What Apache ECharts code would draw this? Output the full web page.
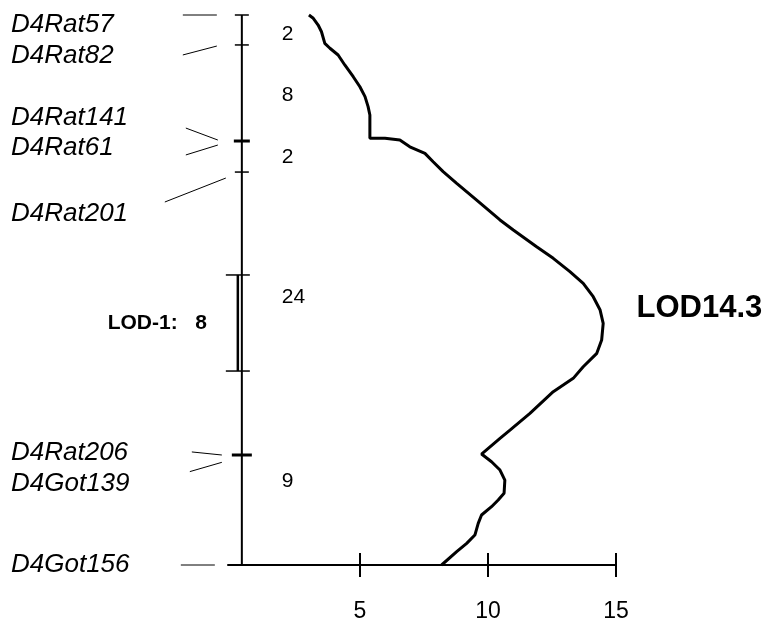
<!DOCTYPE html>
<html>
<head>
<meta charset="utf-8">
<script src="https://cdn.jsdelivr.net/npm/echarts@6/dist/echarts.min.js"></script>
<style>html,body{margin:0;padding:0;background:#fff}#c{width:764px;height:623px}</style>
</head>
<body>
<div id="c"></div>
<script>
// ---- data ----
// LOD profile: LOD score and map position (cM from top marker)
const curveLOD = [3.01,3.18,3.37,3.50,3.63,3.83,4.15,4.41,4.74,5.00,5.20,5.32,5.39,5.39,5.98,6.56,6.95,7.54,7.86,8.25,8.78,9.56,10.47,10.99,11.90,12.55,13.20,13.72,14.11,14.38,14.50,14.44,14.25,13.72,13.33,12.55,11.64,10.86,10.47,9.75,10.14,10.47,10.66,10.63,10.40,10.14,9.75,9.62,9.49,9.17,8.78,8.19];
const curveCM  = [0.00,0.27,0.82,1.37,2.32,2.72,3.27,4.09,5.05,5.87,6.68,7.50,8.18,10.09,10.09,10.23,10.78,11.32,12.01,12.82,13.77,15.14,16.77,17.59,18.96,19.91,21.00,21.95,23.05,24.14,25.23,26.59,27.68,28.78,29.73,30.82,32.59,33.96,34.64,35.92,36.55,37.23,38.05,39.13,39.68,40.23,40.91,41.59,42.55,43.23,43.91,45.00];
// markers
const markerNames = ['D4Rat57','D4Rat82','D4Rat141','D4Rat61','D4Rat201','D4Rat206','D4Got139','D4Got156'];
const markerLabelCM = [0.82,3.35,8.43,10.88,16.28,35.84,38.37,45.0];
// loci on the chromosome bar
const lociCM = [0, 2.45, 10.31, 12.85, 36.0, 45.0];
// interval distances
const intervalLabels = ['2','8','2','24','9'];
const intervalCM = [1.55,6.55,11.62,23.07,38.13];
// LOD-1 support interval
const lod1Start = 21.27, lod1End = 29.13, lod1Text = 'LOD-1:   8';
const peakText = 'LOD14.3', peakCM = 24.0;
const xTicks = [5,10,15];

// ---- layout (pixel offsets relative to chromosome line) ----
const connectors = [ // [dxLabelSide, cmLabelSide, dxMarkerSide, cmMarkerSide]
  [-59,0,-25,0],[-59,3.27,-25,2.54],[-56,9.25,-24,10.23],[-56,11.45,-24,10.64],
  [-77,15.3,-16,13.34],[-50,35.75,-20,36.0],[-52,37.36,-20,36.6],[-61,45,-27,45]
];
const lociHalf = [7,7,8,7,10,0];
const lociWidth = [1.5,1.5,3,1.5,3,0];
const FONT = '"Liberation Sans", Arial, sans-serif';

const chart = echarts.init(document.getElementById('c'), null, {renderer:'canvas'});

function renderDeco(params, api) {
  const x0 = api.coord([0, 0])[0] + 10; // chromosome line x
  const Y = v => api.coord([0, v])[1];
  const ch = [];
  // chromosome line
  ch.push({type:'line', shape:{x1:x0,y1:Y(0),x2:x0,y2:Y(45)}, style:{stroke:'#000',lineWidth:2}});
  lociCM.forEach((c,i)=>{
    if (!lociHalf[i]) return;
    ch.push({type:'line', shape:{x1:x0-lociHalf[i],y1:Y(c),x2:x0+lociHalf[i],y2:Y(c)}, style:{stroke:'#000',lineWidth:lociWidth[i]}});
  });
  // LOD-1 interval bar
  ch.push({type:'line', shape:{x1:x0-4,y1:Y(lod1Start),x2:x0-4,y2:Y(lod1End)}, style:{stroke:'#000',lineWidth:2.5}});
  [lod1Start, lod1End].forEach(c=>{
    ch.push({type:'line', shape:{x1:x0-16,y1:Y(c),x2:x0+8,y2:Y(c)}, style:{stroke:'#000',lineWidth:1.5}});
  });
  ch.push({type:'text', style:{text:lod1Text, x:x0-35, y:Y((lod1Start+lod1End)/2), align:'right', verticalAlign:'middle', font:'bold 21px '+FONT, fill:'#000'}});
  // connectors
  connectors.forEach(c=>{
    ch.push({type:'line', shape:{x1:x0+c[0],y1:Y(c[1]),x2:x0+c[2],y2:Y(c[3])}, style:{stroke:'#000',lineWidth:1}});
  });
  // marker labels
  markerNames.forEach((n,i)=>{
    ch.push({type:'text', style:{text:n, x:11, y:Y(markerLabelCM[i]), align:'left', verticalAlign:'middle', font:'italic 26px '+FONT, fill:'#000'}});
  });
  // interval labels
  intervalLabels.forEach((t,i)=>{
    ch.push({type:'text', style:{text:t, x:x0+40, y:Y(intervalCM[i]), align:'left', verticalAlign:'middle', font:'21px '+FONT, fill:'#000'}});
  });
  // peak label
  const pk = api.coord([15.8, peakCM]);
  ch.push({type:'text', style:{text:peakText, x:pk[0], y:pk[1], align:'left', verticalAlign:'middle', font:'bold 31px '+FONT, fill:'#000'}});
  return {type:'group', children: ch};
}

const xCommon = {type:'value', min:-0.15, max:15, splitLine:{show:false}};
chart.setOption({
  animation:false,
  backgroundColor:'#fff',
  grid:{left:228, right:148, top:15, bottom:58, containLabel:false},
  xAxis:[
    Object.assign({}, xCommon, {
      position:'bottom',
      axisLine:{show:true, onZero:false, lineStyle:{color:'#000', width:2}},
      axisTick:{show:true, inside:false, length:12, lineStyle:{color:'#000', width:2}, customValues:xTicks},
      axisLabel:{show:true, margin:35, color:'#000', fontSize:23, fontFamily:FONT, customValues:xTicks}
    }),
    Object.assign({}, xCommon, {
      position:'bottom',
      axisLine:{show:false, onZero:false},
      axisTick:{show:true, inside:true, length:12, lineStyle:{color:'#000', width:2}, customValues:xTicks},
      axisLabel:{show:false}
    })
  ],
  yAxis:{type:'value', min:0, max:45, inverse:true, show:false, splitLine:{show:false}},
  series:[
    {type:'line', data:curveLOD.map((v,i)=>[v, curveCM[i]]), showSymbol:false, smooth:false,
     lineStyle:{color:'#000', width:3}, clip:false},
    {type:'custom', data:[[0,0]], renderItem:renderDeco, clip:false, silent:true}
  ]
});
</script>
</body>
</html>
